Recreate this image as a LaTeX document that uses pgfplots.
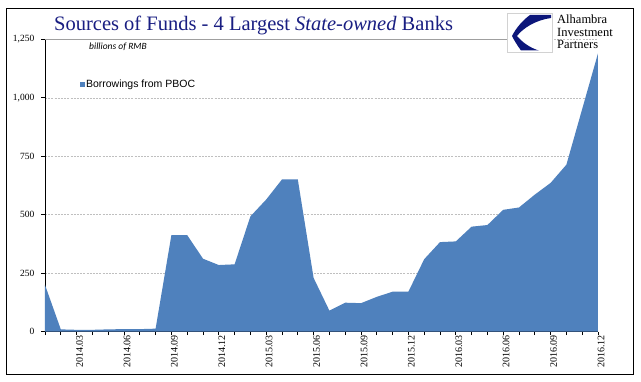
\documentclass[border=0pt]{standalone}
\usepackage{fontspec}
\setmainfont{Liberation Serif}
\newfontfamily\arialf{Liberation Sans}
\newfontfamily\calib{Carlito}
\usepackage{pgfplots}
\pgfplotsset{compat=1.18}
\definecolor{areablue}{RGB}{79,129,189}
\definecolor{titleblue}{RGB}{25,30,130}
\definecolor{logoblue}{RGB}{12,22,122}
\begin{document}
\begin{tikzpicture}[x=1pt,y=1pt]
\useasboundingbox (0,0) rectangle (641,381);
\fill[white] (0,0) rectangle (641,381);
\begin{axis}[
  scale only axis, width=553pt, height=292.4pt,
  at={(45pt,49.3pt)}, anchor=south west,
  xmin=0, xmax=35, ymin=0, ymax=1250,
  axis x line*=bottom, axis y line*=left,
  axis line style={black, line width=0.8pt},
  tick align=outside,
  major tick length=3.5pt, minor tick length=3.5pt,
  tick style={black, line width=0.6pt},
  ytick={0,250,...,1250},
  xtick={2,5,...,35},
  minor xtick={0,...,35},
  xticklabels={2014.03,2014.06,2014.09,2014.12,2015.03,2015.06,2015.09,2015.12,2016.03,2016.06,2016.09,2016.12},
  xticklabel style={rotate=90, anchor=east, inner sep=0pt, xshift=0pt, yshift=-3pt, font=\fontsize{10}{10}\selectfont},
  yticklabel style={anchor=east, inner sep=0pt, xshift=-7pt, font=\fontsize{9.5}{10}\selectfont},
  /pgf/number format/.cd, 1000 sep={,}, assume math mode=true,
  /pgfplots/.cd,
  ymajorgrids, grid style={gray!50, line width=0.5pt, dash pattern=on 2pt off 1.2pt},
  legend style={at={(rel axis cs:0.063,0.847)}, anchor=west, draw=none, fill=none, inner sep=0pt,
    font=\arialf\fontsize{10.5}{12}\selectfont, nodes={inner sep=1pt}},
  legend image code/.code={\fill[areablue] (0pt,-2.5pt) rectangle (5pt,2.5pt);},
]
\addplot[fill=areablue, draw=none] coordinates {
(0,200) (1,10) (2,8) (3,8) (4,10) (5,11) (6,11) (7,13)
(8,413) (9,413) (10,312) (11,285)
(12,288) (13,493) (14,565) (15,651) (16,651) (17,230) (18,90) (19,124) (20,122) (21,149) (22,171) (23,171)
(24,310) (25,383) (26,386) (27,449) (28,456) (29,521) (30,531) (31,586) (32,636) (33,714) (34,952) (35,1190)
} \closedcycle;
\addlegendentry{Borrowings from PBOC}
\end{axis}
% top line under title
\draw[gray!75, line width=0.7pt] (45,341.7) -- (509,341.7);
% frame
\draw[black, line width=1pt] (6,7) rectangle (633,372.7);
% title
\node[anchor=base west, inner sep=0pt, text=titleblue, font=\fontsize{20.5}{21}\selectfont] at (54,350) {Sources of Funds - 4 Largest \textit{State-owned} Banks};
% units
\node[anchor=base west, inner sep=0pt, font=\calib\itshape\fontsize{9.5}{10}\selectfont] at (89,331) {billions of RMB};
% logo
\fill[white] (507,329) rectangle (552,368);
\draw[gray!35, line width=0.8pt] (507,329) rectangle (552,368);
\fill[logoblue] (530,366) -- (551,366) -- (551,363) .. controls (536,361) and (523,353) .. (517,345)
  .. controls (522,339) and (530,333) .. (539,330.5) -- (521,330.5)
  .. controls (517,336) and (514,341) .. (512,345) .. controls (516,353) and (523,361) .. (530,366) -- cycle;
\node[anchor=base west, inner sep=0pt, font=\fontsize{12.5}{12}\selectfont] at (557,357) {Alhambra};
\node[anchor=base west, inner sep=0pt, font=\fontsize{12.5}{12}\selectfont] at (557,344.5) {Investment};
\node[anchor=base west, inner sep=0pt, font=\fontsize{12.5}{12}\selectfont] at (557,332.5) {Partners};
\end{tikzpicture}
\end{document}
